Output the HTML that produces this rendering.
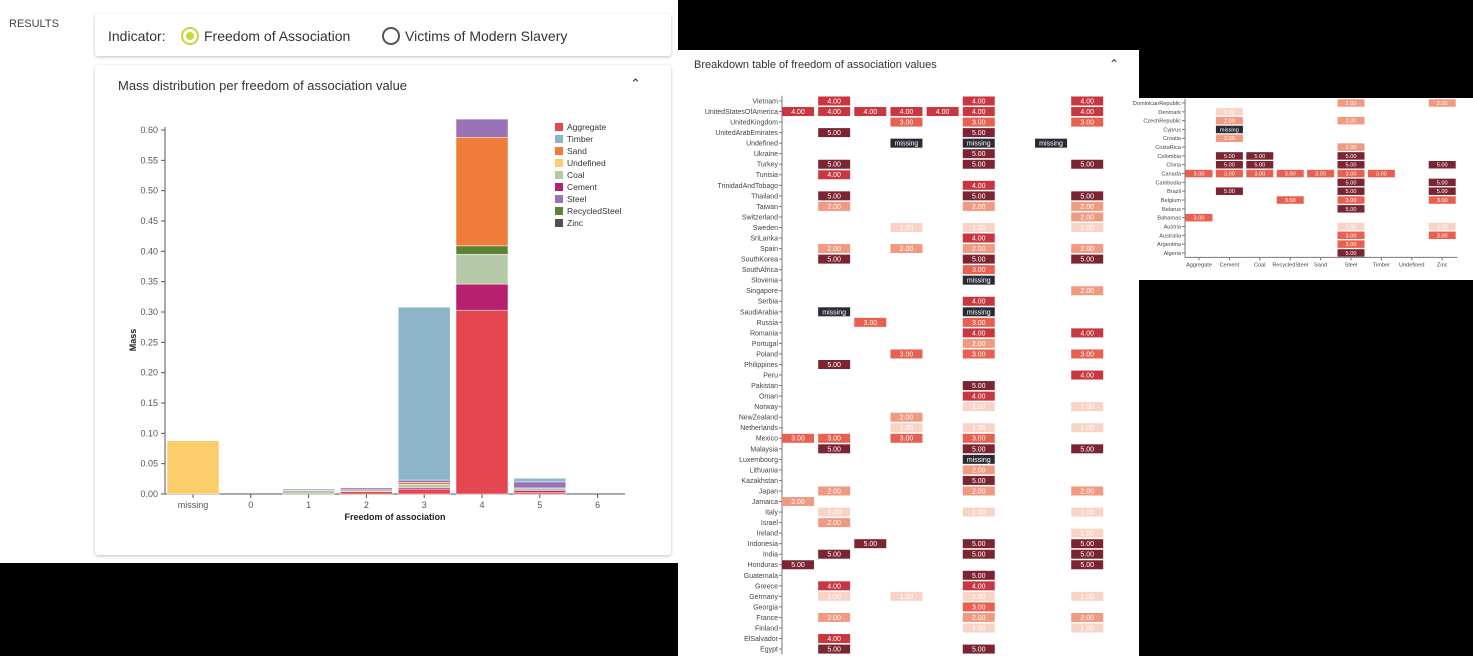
<!DOCTYPE html>
<html><head><meta charset="utf-8">
<style>
body{margin:0;width:1473px;height:656px;background:#000;position:relative;overflow:hidden;font-family:"Liberation Sans",sans-serif}
.abs{position:absolute}
</style></head>
<body>
<div class="abs" style="left:0;top:0;width:678px;height:563px;background:#fff"></div>
<div class="abs" style="left:9px;top:18px;font-size:11px;color:#444">RESULTS</div>
<div class="abs" style="left:95px;top:14px;width:576px;height:42px;background:#fff;box-shadow:0 1px 3px rgba(0,0,0,.25);border-radius:3px">
  <span class="abs" style="left:13px;top:14px;font-size:14px;color:#333">Indicator:</span>
  <span class="abs" style="left:86px;top:13px;width:14px;height:14px;border:2px solid #c5d93a;border-radius:50%"><span class="abs" style="left:3px;top:3px;width:8px;height:8px;background:#c5d93a;border-radius:50%"></span></span>
  <span class="abs" style="left:109px;top:14px;font-size:14px;color:#333">Freedom of Association</span>
  <span class="abs" style="left:287px;top:13px;width:14px;height:14px;border:2px solid #555;border-radius:50%"></span>
  <span class="abs" style="left:310px;top:14px;font-size:14px;color:#333">Victims of Modern Slavery</span>
</div>
<div class="abs" style="left:95px;top:65px;width:576px;height:490px;background:#fff;box-shadow:0 1px 3px rgba(0,0,0,.25);border-radius:3px">
  <span class="abs" style="left:23px;top:13px;font-size:13px;color:#333">Mass distribution per freedom of association value</span>
  <span class="abs" style="left:535px;top:11px;font-size:13px;color:#333">&#8963;</span>
</div>
<div class="abs" style="left:678px;top:50px;width:461px;height:606px;background:#fff"></div>
<div class="abs" style="left:694px;top:59px;font-size:11px;color:#333">Breakdown table of freedom of association values</div>
<div class="abs" style="left:1109px;top:57px;font-size:12px;color:#333">&#8963;</div>
<div class="abs" style="left:1139px;top:98px;width:334px;height:182px;background:#fff"></div>
<svg id="svg" class="abs" style="left:0;top:0" width="1473" height="656"></svg>
<script>
const barCats=["missing","0","1","2","3","4","5","6"];
const materials=["Aggregate","Cement","Coal","RecycledSteel","Sand","Steel","Timber","Undefined","Zinc"];
const legendOrder=["Aggregate","Timber","Sand","Undefined","Coal","Cement","Steel","RecycledSteel","Zinc"];
const valAggregate=[0,0,0,0.004,0.007,0.303,0.003,0];
const valCement=[0,0,0,0,0.003,0.043,0.003,0];
const valCoal=[0,0,0.006,0.003,0.006,0.049,0.004,0];
const valRecycledSteel=[0,0,0,0,0,0.014,0,0];
const valSand=[0,0,0,0,0.003,0.179,0,0];
const valSteel=[0,0,0.002,0.003,0.004,0.030,0.010,0];
const valTimber=[0,0,0,0,0.285,0,0.006,0];
const valUndefined=[0.088,0,0,0,0,0,0,0];
const valZinc=[0,0,0,0,0,0,0,0];
const yTicks=[0,0.05,0.1,0.15,0.2,0.25,0.3,0.35,0.4,0.45,0.5,0.55,0.6];
const matColor={Aggregate:"#e4474f",Timber:"#8db5c9",Sand:"#f07c39",Undefined:"#fbcd6b",Coal:"#b5c9a9",Cement:"#b5216f",Steel:"#9a72b6",RecycledSteel:"#5d8232",Zinc:"#505050"};

const heatCols=["Aggregate","Cement","Coal","RecycledSteel","Sand","Steel","Timber","Undefined","Zinc"];
const rowsA=["Vietnam","UnitedStatesOfAmerica","UnitedKingdom","UnitedArabEmirates","Undefined","Ukraine","Turkey","Tunisia","TrinidadAndTobago","Thailand","Taiwan","Switzerland","Sweden","SriLanka","Spain","SouthKorea","SouthAfrica","Slovenia","Singapore","Serbia","SaudiArabia","Russia","Romania","Portugal","Poland","Philippines","Peru","Pakistan","Oman","Norway","NewZealand","Netherlands","Mexico","Malaysia","Luxembourg","Lithuania","Kazakhstan","Japan","Jamaica","Italy","Israel","Ireland","Indonesia","India","Honduras","Guatemala","Greece","Germany","Georgia","France","Finland","ElSalvador","Egypt"];
const valsA=["-4---4--4","444444--4","---3-3--3","-5---5---","---m-m-m-","-----5---","-5---5--5","-4-------","-----4---","-5---5--5","-2---2--2","--------2","---1-1--1","-----4---","-2-2-2--2","-5---5--5","-----3---","-----m---","--------2","-----4---","-m---m---","--3--3---","-----4--4","-----2---","---3-3--3","-5-------","--------4","-----5---","-----4---","-----1--1","---2-----","---1-1--1","33-3-3---","-5---5--5","-----m---","-----2---","-----5---","-2---2--2","2--------","-1---1--1","-2-------","--------1","--5--5--5","-5---5--5","5-------5","-----5---","-4---4---","-1-1-1--1","-----3---","-2---2--2","-----1--1","-4-------","-5---5---"];
const rowsB=["DominicanRepublic","Denmark","CzechRepublic","Cyprus","Croatia","CostaRica","Colombia","China","Canada","Cambodia","Brazil","Belgium","Belarus","Bahamas","Austria","Australia","Argentina","Algeria"];
const valsB=["-----2--2","-1-------","-2---2---","-m-------","-2-------","-----2---","-55--5---","-55--5--5","3333333--","-----5--5","-5---5--5","---3-3--3","-----5---","3--------","-----1--1","-----3--3","-----3---","-----5---"];
const heatColor={"5":"#7b2532","4":"#c8363f","3":"#e8604f","2":"#f19a82","1":"#f9d4c6","m":"#2a2a35"};

const NS="http://www.w3.org/2000/svg";
const svg=document.getElementById("svg");
function mk(t,a,p){const e=document.createElementNS(NS,t);for(const k in a)e.setAttribute(k,a[k]);(p||svg).appendChild(e);return e;}

const y0=494,y1=130,x0=165,xEnd=625;
const yS=v=>y0-(v/0.6)*(y0-y1);
const xS=i=>193+i*57.8;
const g=mk("g",{});


mk("line",{x1:x0,x2:x0,y1:y0,y2:y1-3,stroke:"#555"},g);
mk("line",{x1:x0,x2:xEnd,y1:y0,y2:y0,stroke:"#555"},g);
yTicks.forEach(t=>{const y=yS(t);mk("line",{x1:x0-4,x2:x0,y1:y,y2:y,stroke:"#555"},g);
 const tx=mk("text",{x:x0-7,y:y+3,"font-size":9,fill:"#555","text-anchor":"end"},g);tx.textContent=t.toFixed(2);
 
 });
barCats.forEach((c,i)=>{const x=xS(i);mk("line",{x1:x,x2:x,y1:y0,y2:y0+4,stroke:"#555"},g);
 const tx=mk("text",{x:x,y:y0+14,"font-size":9,fill:"#555","text-anchor":"middle"},g);tx.textContent=c;
 
 });
const series={Aggregate:valAggregate,Cement:valCement,Coal:valCoal,RecycledSteel:valRecycledSteel,Sand:valSand,Steel:valSteel,Timber:valTimber,Undefined:valUndefined,Zinc:valZinc};
barCats.forEach((c,i)=>{let acc=0;materials.forEach(m=>{const v=series[m][i];if(v>0){const r=mk("rect",{x:xS(i)-26,width:52,y:yS(acc+v),height:yS(acc)-yS(acc+v),fill:matColor[m],stroke:"#fff","stroke-width":0.5},g);
 
 }acc+=v;});});
let t=mk("text",{x:395,y:520,"font-size":9,"font-weight":"bold",fill:"#222","text-anchor":"middle"},g);t.textContent="Freedom of association";


t=mk("text",{x:0,y:0,"font-size":9,"font-weight":"bold",fill:"#222","text-anchor":"middle",transform:"translate(136,340) rotate(-90)"},g);t.textContent="Mass";


legendOrder.forEach((m,i)=>{const y=127+i*12;
 const r=mk("rect",{x:555,y:y-4,width:8,height:8,fill:matColor[m]},g);
 
 
 const tx=mk("text",{x:567,y:y+3,"font-size":8.5,fill:"#333"},g);tx.textContent=m;
 
 });

function heat(rows,vals,ax,cx0,dx,cy0,dy,cw,ch,fs,showX,name){
 const hg=mk("g",{});
 
 
 const yEnd=cy0+(rows.length-1)*dy+dy/2;
 mk("line",{x1:ax,x2:ax,y1:cy0-dy/2,y2:yEnd,stroke:"#777"},hg);
 rows.forEach((r,i)=>{const y=cy0+i*dy;
  mk("line",{x1:ax-3,x2:ax,y1:y,y2:y,stroke:"#777"},hg);
  const tx=mk("text",{x:ax-4,y:y+fs*0.35,"font-size":fs,fill:"#444","text-anchor":"end"},hg);tx.textContent=r;
  
  
  [...vals[i]].forEach((v,j)=>{if(v==="-")return;const x=cx0+j*dx;
   const rc=mk("rect",{x:x-cw/2,y:y-ch/2,width:cw,height:ch,fill:heatColor[v]},hg);
   
   
   const lt=mk("text",{x:x,y:y+fs*0.35,"font-size":fs,fill:"#fff","text-anchor":"middle"},hg);lt.textContent=v==="m"?"missing":(+v).toFixed(2);
   
   });});
 if(showX){mk("line",{x1:ax,x2:cx0+(heatCols.length-0.5)*dx,y1:yEnd,y2:yEnd,stroke:"#777"},hg);
  heatCols.forEach((c,j)=>{const x=cx0+j*dx;mk("line",{x1:x,x2:x,y1:yEnd,y2:yEnd+3,stroke:"#777"},hg);
   const tx=mk("text",{x:x,y:yEnd+9,"font-size":fs,fill:"#444","text-anchor":"middle"},hg);tx.textContent=c;
   
   });}
}
heat(rowsA,valsA,782,798,36.15,101,10.54,32,9,7,false,'breakdown-heatmap');
heat(rowsB,valsB,1185,1199,30.4,103,8.82,27,7.5,5.6,true,'breakdown-heatmap-2');
</script>
</body></html>
